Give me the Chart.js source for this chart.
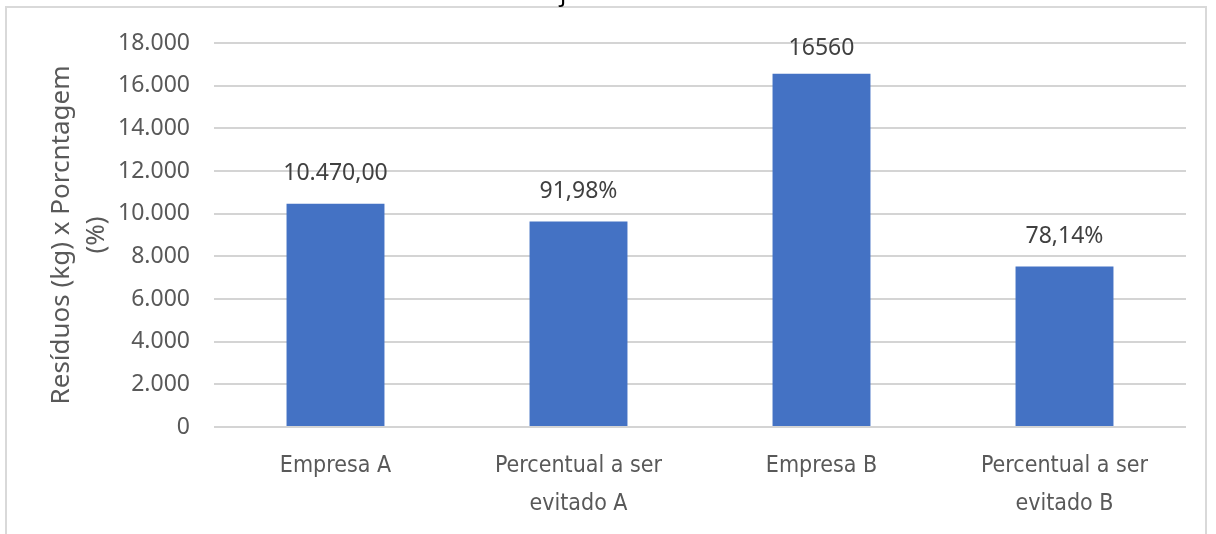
<!DOCTYPE html>
<html>
<head>
<meta charset="utf-8">
<script src="https://cdn.jsdelivr.net/npm/chart.js@4.4.1/dist/chart.umd.min.js"></script>
<style>
html, body { margin: 0; padding: 0; background: #fff; width: 1216px; height: 534px; overflow: hidden; }
#frame { position: absolute; left: 5px; top: 6px; width: 1202px; height: 560px; border: 2px solid #d9d9d9; box-sizing: border-box; }
#chart { position: absolute; left: 0; top: 0; }
</style>
</head>
<body>
<div id="frame"></div>
<canvas id="chart" width="1216" height="534"></canvas>
<script>
// data
const categories = [
    ["Empresa A"],
    ["Percentual a ser", "evitado A"],
    ["Empresa B"],
    ["Percentual a ser", "evitado B"]
];
const values = [10470, 9630, 16560, 7520];
const valueLabels = ["10.470,00", "91,98%", "16560", "78,14%"];
const axisTitle = ["Resíduos (kg) x Porcntagem", "(%)"];

// pt-BR thousands separator
function fmt(v) {
    return String(v).replace(/\B(?=(\d{3})+(?!\d))/g, ".");
}

const valueLabelPlugin = {
    id: 'valueLabels',
    afterDatasetsDraw(chart) {
        const ctx = chart.ctx;
        const meta = chart.getDatasetMeta(0);
        ctx.save();
        ctx.font = '23px "Noto Sans", "Open Sans", sans-serif';
        ctx.fillStyle = '#404040';
        ctx.textAlign = 'center';
        ctx.textBaseline = 'middle';
        meta.data.forEach(function(bar, i) {
            // keep the label inside the plot like excel does
            let y = Math.max(bar.y - 30, chart.chartArea.top + 5);
            ctx.fillText(valueLabels[i], bar.x, y);
        });
        // bit of the cut-off title at the very top
        ctx.font = '24px "Noto Sans", sans-serif';
        ctx.fillStyle = '#000';
        ctx.textBaseline = 'alphabetic';
        ctx.fillText('j', 563, 1);
        ctx.restore();
    }
};

const ctx = document.getElementById('chart').getContext('2d');
const chart = new Chart(ctx, {
    type: 'bar',
    data: {
        labels: categories,
        datasets: [
            {
                label: "",
                data: values,
                backgroundColor: '#4472C4',
                borderWidth: 0,
                categoryPercentage: 1,
                barPercentage: 0.403
            }
        ]
    },
    options: {
        responsive: false,
        animation: false,
        layout: {
            padding: { top: 43, right: 30, bottom: 0, left: 0 }
        },
        plugins: {
            legend: { display: false },
            tooltip: { enabled: false }
        },
        scales: {
            x: {
                grid: { display: false, drawTicks: false },
                border: { display: false },
                ticks: {
                    color: '#595959',
                    padding: 20,
                    maxRotation: 0,
                    autoSkip: false,
                    font: { family: '"Liberation Sans Narrow", "DejaVu Sans Condensed", sans-serif', size: 23, lineHeight: 1.65 }
                },
                afterFit: function(scale) { scale.height = 107; }
            },
            y: {
                min: 0,
                max: 18000,
                grid: { color: '#d4d4d4', lineWidth: 2, drawTicks: false },
                border: { display: false },
                ticks: {
                    stepSize: 2000,
                    color: '#595959',
                    padding: 24,
                    font: { family: '"Noto Sans", "Open Sans", sans-serif', size: 23 },
                    callback: function(v) { return fmt(v); }
                },
                title: {
                    display: true,
                    text: axisTitle,
                    color: '#595959',
                    padding: { top: 44, bottom: 0 },
                    font: { family: '"Noto Sans", "Open Sans", sans-serif', size: 26, lineHeight: 1.35 }
                },
                afterFit: function(scale) { scale.width = 214; }
            }
        }
    },
    plugins: [valueLabelPlugin]
});
</script>
</body>
</html>
